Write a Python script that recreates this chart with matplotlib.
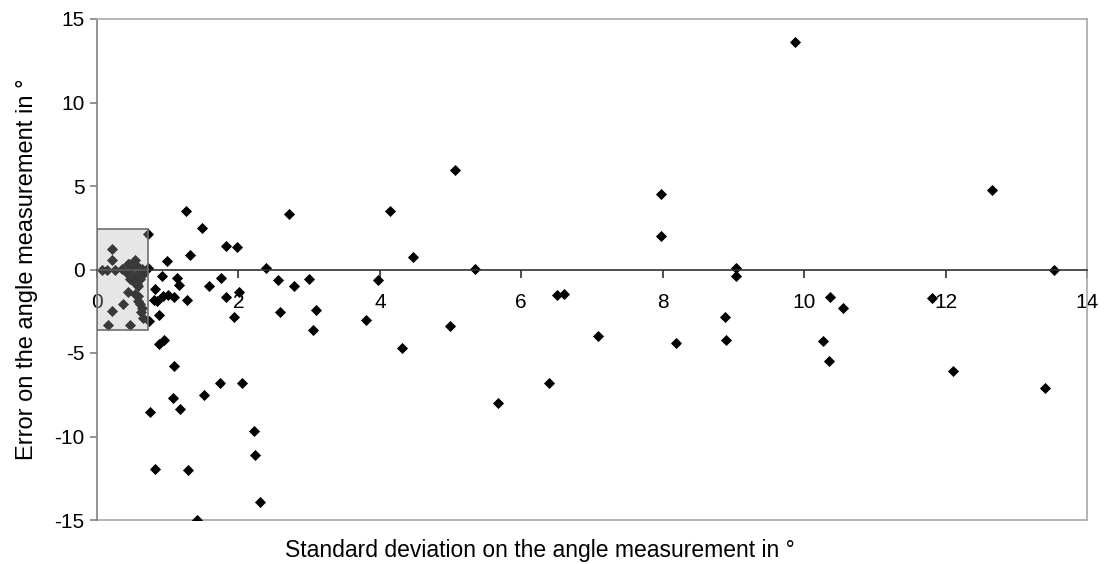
import matplotlib
matplotlib.use("Agg")
import matplotlib.pyplot as plt
from matplotlib.patches import Rectangle

plt.rcParams['font.family'] = ['Liberation Sans', 'DejaVu Sans']
plt.rcParams['axes.unicode_minus'] = False

# standard deviation (x) and error (y) on the angle measurement, in degrees
std_dev = [0.72, 1.26, 1.49, 0.99, 1.32, 1.83, 1.98, 2.72, 2.39, 0.72,
           0.92, 1.13, 1.16, 0.82, 1.59, 1.76, 2.56, 2.78, 3.00, 2.01,
           1.83, 1.27, 0.81, 0.85, 0.94, 1.00, 1.09, 0.88, 0.74, 1.94,
           2.59, 3.09, 3.06, 0.88, 0.95, 3.81, 1.09, 1.74, 2.05, 1.07,
           1.52, 1.17, 0.75, 2.22, 2.24, 0.82, 1.29, 2.31, 1.42, 3.98,
           4.15, 4.47, 5.06, 5.34, 6.50, 6.60, 7.97, 7.97, 9.87, 9.04,
           9.04, 12.66, 13.53, 10.37, 10.55, 11.81, 8.88, 8.90, 10.26, 10.35,
           12.11, 13.41, 4.99, 4.31, 7.08, 8.19, 6.39, 5.67,
           # points inside the zoomed area
           0.21, 0.21, 0.07, 0.14, 0.26, 0.35, 0.44, 0.54, 0.50, 0.58,
           0.42, 0.54, 0.61, 0.47, 0.64, 0.45, 0.56, 0.63, 0.65, 0.56,
           0.54, 0.58, 0.44, 0.54, 0.58, 0.58, 0.61, 0.63, 0.62, 0.65,
           0.37, 0.21, 0.16, 0.47]
error = [2.10, 3.50, 2.50, 0.48, 0.84, 1.38, 1.32, 3.35, 0.10, 0.06,
         -0.37, -0.48, -0.90, -1.14, -0.97, -0.48, -0.60, -0.97, -0.54, -1.32,
         -1.67, -1.80, -1.80, -1.90, -1.56, -1.50, -1.67, -2.70, -3.10, -2.87,
         -2.57, -2.45, -3.65, -4.45, -4.20, -3.05, -5.75, -6.77, -6.77, -7.70,
         -7.50, -8.37, -8.55, -9.70, -11.10, -11.95, -12.00, -13.90, -15.00, -0.60,
         3.50, 0.77, 5.97, 0.02, -1.50, -1.45, 4.50, 2.03, 13.60, 0.07,
         -0.37, 4.74, 0.00, -1.66, -2.33, -1.70, -2.87, -4.20, -4.27, -5.45,
         -6.10, -7.07, -3.41, -4.73, -4.00, -4.40, -6.77, -8.00,
         1.20, 0.54, 0.00, 0.00, 0.00, 0.05, 0.30, 0.54, 0.10, 0.10,
         -0.20, -0.37, -0.55, -0.55, -0.20, 0.35, 0.20, 0.05, -0.25, -0.85,
         -0.78, -0.96, -1.37, -1.44, -1.60, -1.86, -2.04, -2.28, -2.57, -2.93,
         -2.04, -2.50, -3.35, -3.30]

# zoom box (x0, y0, width, height)
box = (0, -3.6, 0.72, 6.0)

fig = plt.figure(figsize=(11.11, 5.64), dpi=100)
ax = fig.add_axes([97 / 1111, 1 - 520 / 564, 990 / 1111, 501 / 564])

ax.scatter(std_dev, error, marker='D', s=32, color='black', linewidths=0, zorder=2)
ax.add_patch(Rectangle(box[:2], box[2], box[3], facecolor='#b4b4b4', alpha=0.32,
                       edgecolor='none', zorder=3))
ax.add_patch(Rectangle(box[:2], box[2], box[3], facecolor='none',
                       edgecolor='#707070', linewidth=1.2, zorder=4))

ax.set_xlim(0, 14)
ax.set_ylim(-15, 15)
ax.set_xticks(range(0, 15, 2))
ax.set_yticks(range(-15, 16, 5))

ax.spines['bottom'].set_position(('data', 0))
ax.spines['bottom'].set_color('#303030')
ax.spines['left'].set_color('#808080')
ax.spines['top'].set_color('#a8a8a8')
ax.spines['right'].set_color('#a8a8a8')
for s in ax.spines.values():
    s.set_linewidth(1.2)
ax.axhline(-15, color='#a8a8a8', linewidth=1.2, clip_on=False, zorder=1)

ax.tick_params(axis='x', direction='out', length=6, width=1.2, color='#303030',
               labelsize=15, pad=11)
ax.tick_params(axis='y', direction='out', length=5, width=1.2, color='#808080',
               labelsize=15, pad=4)

ax.set_xlabel('Standard deviation on the angle measurement in °', fontsize=16.5)
ax.xaxis.set_label_coords(0.447, -0.038)
ax.set_ylabel('Error on the angle measurement in °', fontsize=17)
ax.yaxis.set_label_coords(-0.06, 0.5)

fig.savefig('out.png', dpi=100)
